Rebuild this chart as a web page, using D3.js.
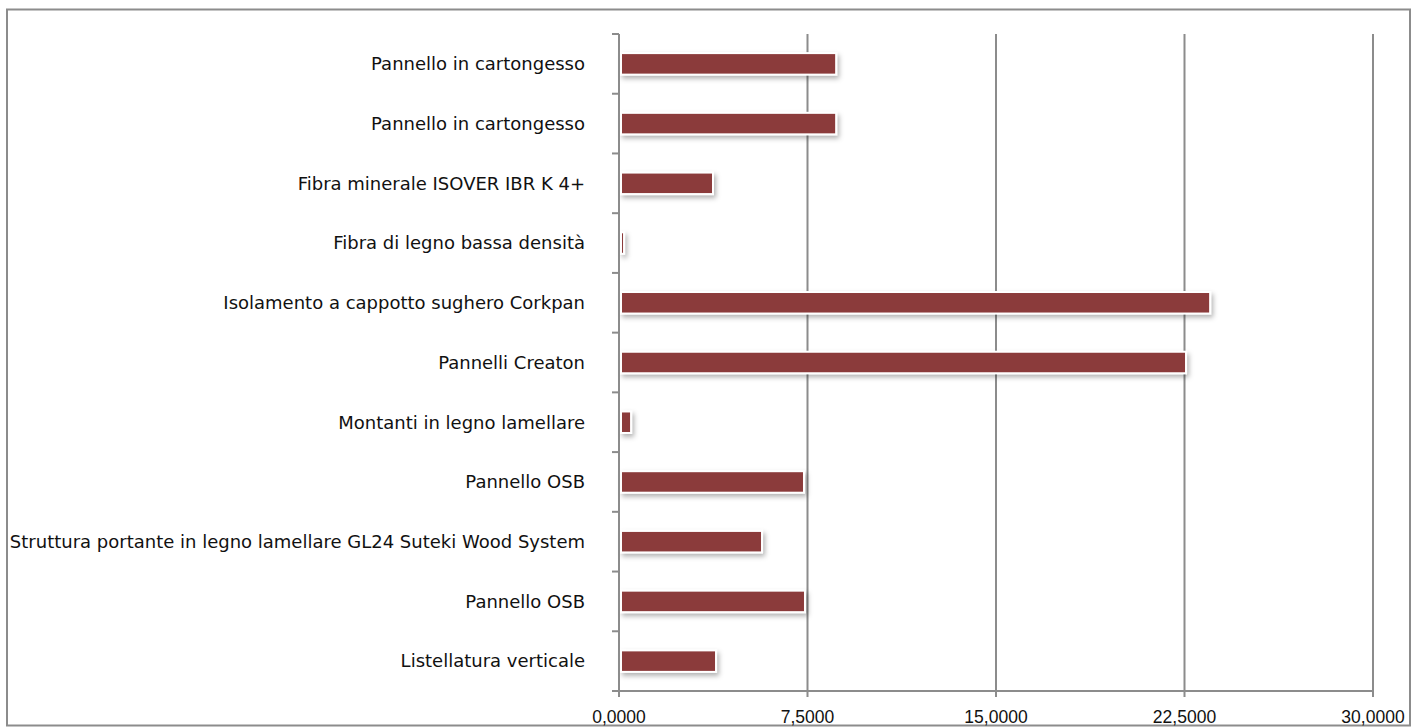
<!DOCTYPE html>
<html>
<head>
<meta charset="utf-8">
<script src="https://cdnjs.cloudflare.com/ajax/libs/d3/7.8.5/d3.min.js"></script>
<style>
  body { margin: 0; background: #fff; }
  svg { display: block; }
  .cat text { font-family: "DejaVu Sans", sans-serif; font-size: 18px; fill: #111; }
  .val text { font-family: "Liberation Sans", Arial, sans-serif; font-size: 17.5px; fill: #111; }
</style>
</head>
<body>
<svg id="chart" width="1421" height="728"></svg>
<script>
// categories listed top to bottom
let categories = [
    "Pannello in cartongesso",
    "Pannello in cartongesso",
    "Fibra minerale ISOVER IBR K 4+",
    "Fibra di legno bassa densità",
    "Isolamento a cappotto sughero Corkpan",
    "Pannelli Creaton",
    "Montanti in legno lamellare",
    "Pannello OSB",
    "Struttura portante in legno lamellare GL24 Suteki Wood System",
    "Pannello OSB",
    "Listellatura verticale"
];
let values = [8.64, 8.64, 3.74, 0.2, 23.52, 22.56, 0.48, 7.36, 5.69, 7.40, 3.86];
let ticks = [0, 7.5, 15, 22.5, 30];

let svg = d3.select('#chart');

let margin = {left: 619, right: 48, top: 34, bottom: 37};
let width = 1421, height = 728;

// outer frame
svg.append('rect')
    .attr('x', 7).attr('y', 9.5)
    .attr('width', 1403).attr('height', 716)
    .attr('fill', 'none')
    .attr('stroke', '#8c8c8c')
    .attr('stroke-width', 2);

let defs = svg.append('defs');
let filter = defs.append('filter').attr('id', 'shadow')
    .attr('filterUnits', 'userSpaceOnUse')
    .attr('x', 0).attr('y', 0).attr('width', width).attr('height', height);
filter.append('feDropShadow')
    .attr('dx', 2).attr('dy', 3).attr('stdDeviation', 2.5)
    .attr('flood-color', '#000').attr('flood-opacity', 0.3);

let x = d3.scaleLinear()
    .domain([0, 30])
    .range([margin.left, width - margin.right]);

let idx = d3.range(categories.length);
let y = d3.scaleBand()
    .domain(idx)
    .range([margin.top, height - margin.bottom])
    .paddingInner(0.64)
    .paddingOuter(0.32);

let step = y.step();

// vertical gridlines
svg.append('g').selectAll('line')
    .data(ticks.slice(1))
    .join('line')
    .attr('x1', d => x(d)).attr('x2', d => x(d))
    .attr('y1', margin.top).attr('y2', height - margin.bottom + 6)
    .attr('stroke', '#8c8c8c')
    .attr('stroke-width', 2);

// bars
svg.append('g').selectAll('rect')
    .data(values)
    .join('rect')
    .attr('x', x(0) + 2)
    .attr('y', (d, i) => y(i))
    .attr('width', d => Math.max(x(d) - x(0) - 2, 1))
    .attr('height', y.bandwidth())
    .attr('fill', '#8b3a3a')
    .attr('stroke', '#fff')
    .attr('stroke-width', 2)
    .attr('filter', 'url(#shadow)');

// category axis
let yAxis = svg.append('g').attr('class', 'cat');
yAxis.append('line')
    .attr('x1', x(0)).attr('x2', x(0))
    .attr('y1', margin.top).attr('y2', height - margin.bottom + 6)
    .attr('stroke', '#8c8c8c').attr('stroke-width', 2);
yAxis.selectAll('line.tick')
    .data(d3.range(categories.length + 1))
    .join('line')
    .attr('class', 'tick')
    .attr('x1', x(0) - 7).attr('x2', x(0))
    .attr('y1', d => margin.top + d * step)
    .attr('y2', d => margin.top + d * step)
    .attr('stroke', '#8c8c8c').attr('stroke-width', 2);
yAxis.selectAll('text')
    .data(categories)
    .join('text')
    .attr('x', x(0) - 34)
    .attr('y', (d, i) => y(i) + y.bandwidth() / 2)
    .attr('dy', '0.35em')
    .attr('text-anchor', 'end')
    .text(d => d);

// value axis
let xAxis = svg.append('g').attr('class', 'val');
xAxis.append('line')
    .attr('x1', x(0) - 7).attr('x2', x(30))
    .attr('y1', height - margin.bottom).attr('y2', height - margin.bottom)
    .attr('stroke', '#8c8c8c').attr('stroke-width', 2);
xAxis.selectAll('text')
    .data(ticks)
    .join('text')
    .attr('x', d => x(d))
    .attr('y', height - margin.bottom + 32)
    .attr('text-anchor', 'middle')
    .text(d => d3.format('.4f')(d).replace('.', ','));
</script>
</body>
</html>
